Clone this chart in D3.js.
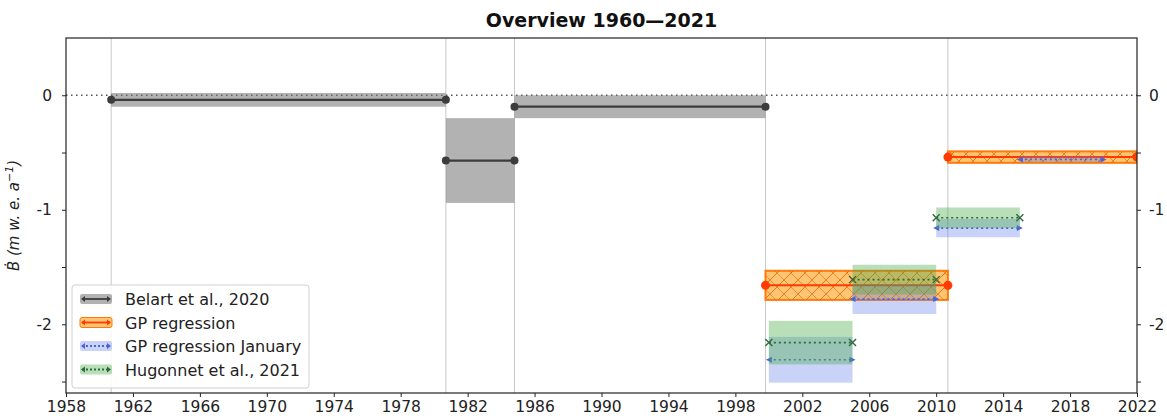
<!DOCTYPE html>
<html>
<head>
<meta charset="utf-8">
<script src="https://cdn.jsdelivr.net/npm/d3@7"></script>
<style>
  body { margin: 0; background: #fff; }
  svg { font-family: "DejaVu Sans", sans-serif; }
</style>
</head>
<body>
<svg id="chart" width="1167" height="418"></svg>
<script>
// Geodetic mass balance estimates per period (m w.e. a^-1)
const belartStart = [1960.7, 1980.7, 1984.8];
const belartEnd   = [1980.7, 1984.8, 1999.8];
const belartValue = [-0.04, -0.57, -0.10];
const belartError = [0.06, 0.37, 0.10];

const gpStart = [1999.8, 2010.7];
const gpEnd   = [2010.7, 2022.0];
const gpValue = [-1.66, -0.54];
const gpError = [0.127, 0.05];

const janStart = [2000, 2005, 2010, 2015];
const janEnd   = [2005, 2010, 2015, 2020];
const janValue = [-2.31, -1.78, -1.16, -0.56];
const janError = [0.20, 0.13, 0.08, 0.025];

const hugStart = [2000, 2005, 2010];
const hugEnd   = [2005, 2010, 2015];
const hugValue = [-2.16, -1.61, -1.07];
const hugError = [0.19, 0.13, 0.09];

const xTicks = d3.range(1958, 2023, 4);
const yMajorTicks = [0, -1, -2];
const yMinorTicks = [0, -0.5, -1, -1.5, -2, -2.5];
const dividers = [1960.7, 1980.7, 1984.8, 1999.8, 2010.7];

const legendLabels = ["Belart et al., 2020", "GP regression", "GP regression January", "Hugonnet et al., 2021"];

const svg = d3.select("#chart");
const L = 66, R = 1137, T = 38, B = 393;

const x = d3.scaleLinear().domain([1958, 2022]).range([L, R]);
const y = d3.scaleLinear().domain([-2.6, 0.5]).range([B, T]);

// hatch pattern for the GP regression bands
const defs = svg.append("defs");
const pat = defs.append("pattern")
  .attr("id", "hatchX").attr("patternUnits", "userSpaceOnUse")
  .attr("width", 14).attr("height", 14);
pat.append("path").attr("d", "M0,14 L14,0 M-3,3 L3,-3 M11,17 L17,11")
  .attr("stroke", "#e86a00").attr("stroke-width", 1).attr("opacity", 0.85);
pat.append("path").attr("d", "M0,0 L14,14 M-3,11 L3,17 M11,-3 L17,3")
  .attr("stroke", "#e86a00").attr("stroke-width", 1).attr("opacity", 0.6);

const clip = defs.append("clipPath").attr("id", "plotClip");
clip.append("rect").attr("x", L).attr("y", T).attr("width", R - L).attr("height", B - T);

const plot = svg.append("g").attr("clip-path", "url(#plotClip)");

// period boundaries
plot.selectAll("line.div").data(dividers).join("line")
  .attr("x1", d => x(d)).attr("x2", d => x(d))
  .attr("y1", T).attr("y2", B)
  .attr("stroke", "#c8c8c8").attr("stroke-width", 1);

// zero reference
plot.append("line")
  .attr("x1", L).attr("x2", R).attr("y1", y(0)).attr("y2", y(0))
  .attr("stroke", "#555").attr("stroke-width", 1.4)
  .attr("stroke-dasharray", "1.5,3.5");

function rows(s, e, v, err) {
  return s.map((d, i) => ({ s: d, e: e[i], v: v[i], err: err[i] }));
}

function bands(data, fill, opts = {}) {
  plot.append("g").selectAll("rect").data(data).join("rect")
    .attr("x", d => x(d.s)).attr("width", d => x(d.e) - x(d.s))
    .attr("y", d => y(d.v + d.err)).attr("height", d => y(d.v - d.err) - y(d.v + d.err))
    .attr("fill", fill)
    .attr("stroke", opts.stroke || "none")
    .attr("stroke-width", opts.strokeWidth || 0);
  if (opts.hatch) {
    plot.append("g").selectAll("rect").data(data).join("rect")
      .attr("x", d => x(d.s)).attr("width", d => x(d.e) - x(d.s))
      .attr("y", d => y(d.v + d.err)).attr("height", d => y(d.v - d.err) - y(d.v + d.err))
      .attr("fill", "url(#hatchX)");
  }
}

function lines(data, color, width, dash) {
  plot.append("g").selectAll("line").data(data).join("line")
    .attr("x1", d => x(d.s)).attr("x2", d => x(d.e))
    .attr("y1", d => y(d.v)).attr("y2", d => y(d.v))
    .attr("stroke", color).attr("stroke-width", width)
    .attr("stroke-dasharray", dash || null);
}

function endDots(data, color, r) {
  const pts = data.flatMap(d => [{ x: d.s, v: d.v }, { x: d.e, v: d.v }]);
  plot.append("g").selectAll("circle").data(pts).join("circle")
    .attr("cx", d => x(d.x)).attr("cy", d => y(d.v)).attr("r", r)
    .attr("fill", color);
}

function endCrosses(data, color, s) {
  const pts = data.flatMap(d => [{ x: d.s, v: d.v }, { x: d.e, v: d.v }]);
  plot.append("g").selectAll("path").data(pts).join("path")
    .attr("d", d => {
      const cx = x(d.x), cy = y(d.v);
      return `M${cx - s},${cy - s}L${cx + s},${cy + s}M${cx - s},${cy + s}L${cx + s},${cy - s}`;
    })
    .attr("stroke", color).attr("stroke-width", 1.4);
}

function endTriangles(data, color, s) {
  const pts = data.flatMap(d => [{ x: d.s, v: d.v, dir: -1 }, { x: d.e, v: d.v, dir: 1 }]);
  plot.append("g").selectAll("path").data(pts).join("path")
    .attr("d", d => {
      const cx = x(d.x), cy = y(d.v);
      return `M${cx + d.dir * s},${cy}L${cx - d.dir * s},${cy - s}L${cx - d.dir * s},${cy + s}Z`;
    })
    .attr("fill", color);
}

const belart = rows(belartStart, belartEnd, belartValue, belartError);
const gp = rows(gpStart, gpEnd, gpValue, gpError);
const jan = rows(janStart, janEnd, janValue, janError);
const hug = rows(hugStart, hugEnd, hugValue, hugError);

// Belart et al., 2020
bands(belart, "rgba(115,115,115,0.55)");
lines(belart, "#3c3c3c", 2.2);
endDots(belart, "#3c3c3c", 4);

// GP regression
bands(gp, "rgba(255,160,30,0.62)", { stroke: "#ff7a0a", strokeWidth: 2, hatch: true });
lines(gp, "#ff3a00", 2);
endDots(gp, "#ff3a00", 4.5);

// GP regression January
bands(jan, "rgba(90,120,235,0.33)");
lines(jan, "#4a63d8", 1.6, "2,3");
endTriangles(jan, "#4a63d8", 3);

// Hugonnet et al., 2021
bands(hug, "rgba(70,170,70,0.38)");
lines(hug, "#2f6a3a", 1.6, "2,3");
endCrosses(hug, "#2f6a3a", 3.5);

// axes
const fontSize = 15.5;
const fmt = d => yMajorTicks.includes(d) ? d3.format("d")(d).replace("\u2212", "-") : "";
const xAxis = d3.axisBottom(x).tickValues(xTicks).tickFormat(d3.format("d")).tickSize(4).tickPadding(4);
const gx = svg.append("g").attr("transform", `translate(0,${B})`).call(xAxis);

const yLeft = d3.axisLeft(y).tickValues(yMinorTicks).tickFormat(fmt).tickSize(4).tickPadding(10);
const gyl = svg.append("g").attr("transform", `translate(${L},0)`).call(yLeft);

const yRight = d3.axisRight(y).tickValues(yMinorTicks).tickFormat(fmt).tickSize(4).tickPadding(8);
const gyr = svg.append("g").attr("transform", `translate(${R},0)`).call(yRight);

[gx, gyl, gyr].forEach(g => {
  g.selectAll(".domain").remove();
  g.selectAll("text").attr("font-size", fontSize).attr("fill", "#222")
    .attr("font-family", "DejaVu Sans, sans-serif");
  g.selectAll("line").attr("stroke", "#222");
});

// frame
svg.append("rect").attr("x", L).attr("y", T).attr("width", R - L).attr("height", B - T)
  .attr("fill", "none").attr("stroke", "#222").attr("stroke-width", 1.2);

// title
svg.append("text").attr("x", (L + R) / 2).attr("y", 27)
  .attr("text-anchor", "middle").attr("font-size", 19).attr("font-weight", "bold")
  .attr("fill", "#111").text("Overview 1960\u20142021");

// y label
const yl = svg.append("text")
  .attr("transform", `translate(19,${(T + B) / 2}) rotate(-90)`)
  .attr("text-anchor", "middle").attr("font-size", 15).attr("fill", "#222")
  .attr("font-style", "italic");
yl.append("tspan").text("\u1E02 (m w. e. a");
yl.append("tspan").attr("dy", -6).attr("font-size", 11).text("\u22121");
yl.append("tspan").attr("dy", 6).text(")");

// legend
const lg = svg.append("g").attr("transform", "translate(72,285)");
lg.append("rect").attr("width", 237).attr("height", 103).attr("rx", 3)
  .attr("fill", "rgba(255,255,255,0.85)").attr("stroke", "#d0d0d0");

const legendStyle = [
  { fill: "rgba(115,115,115,0.55)", line: "#3c3c3c", dash: null, edge: null },
  { fill: "rgba(255,160,30,0.62)", line: "#ff3a00", dash: null, edge: "#ff7a0a" },
  { fill: "rgba(90,120,235,0.33)", line: "#4a63d8", dash: "2,2", edge: null },
  { fill: "rgba(70,170,70,0.38)", line: "#2f6a3a", dash: "2,2", edge: null }
];

legendLabels.forEach((lab, i) => {
  const cy = 14 + i * 23.5;
  const st = legendStyle[i];
  const g = lg.append("g");
  g.append("rect").attr("x", 8).attr("y", cy - 5).attr("width", 32).attr("height", 10).attr("rx", 2)
    .attr("fill", st.fill).attr("stroke", st.edge || "none").attr("stroke-width", st.edge ? 1 : 0);
  g.append("line").attr("x1", 10).attr("x2", 38).attr("y1", cy).attr("y2", cy)
    .attr("stroke", st.line).attr("stroke-width", 1.8).attr("stroke-dasharray", st.dash);
  g.append("path").attr("d", `M9,${cy}L13,${cy - 3}L13,${cy + 3}Z M39,${cy}L35,${cy - 3}L35,${cy + 3}Z`)
    .attr("fill", st.line);
  g.append("text").attr("x", 53).attr("y", cy + 6).attr("font-size", 16).attr("fill", "#222")
    .text(lab);
});
</script>
</body>
</html>
